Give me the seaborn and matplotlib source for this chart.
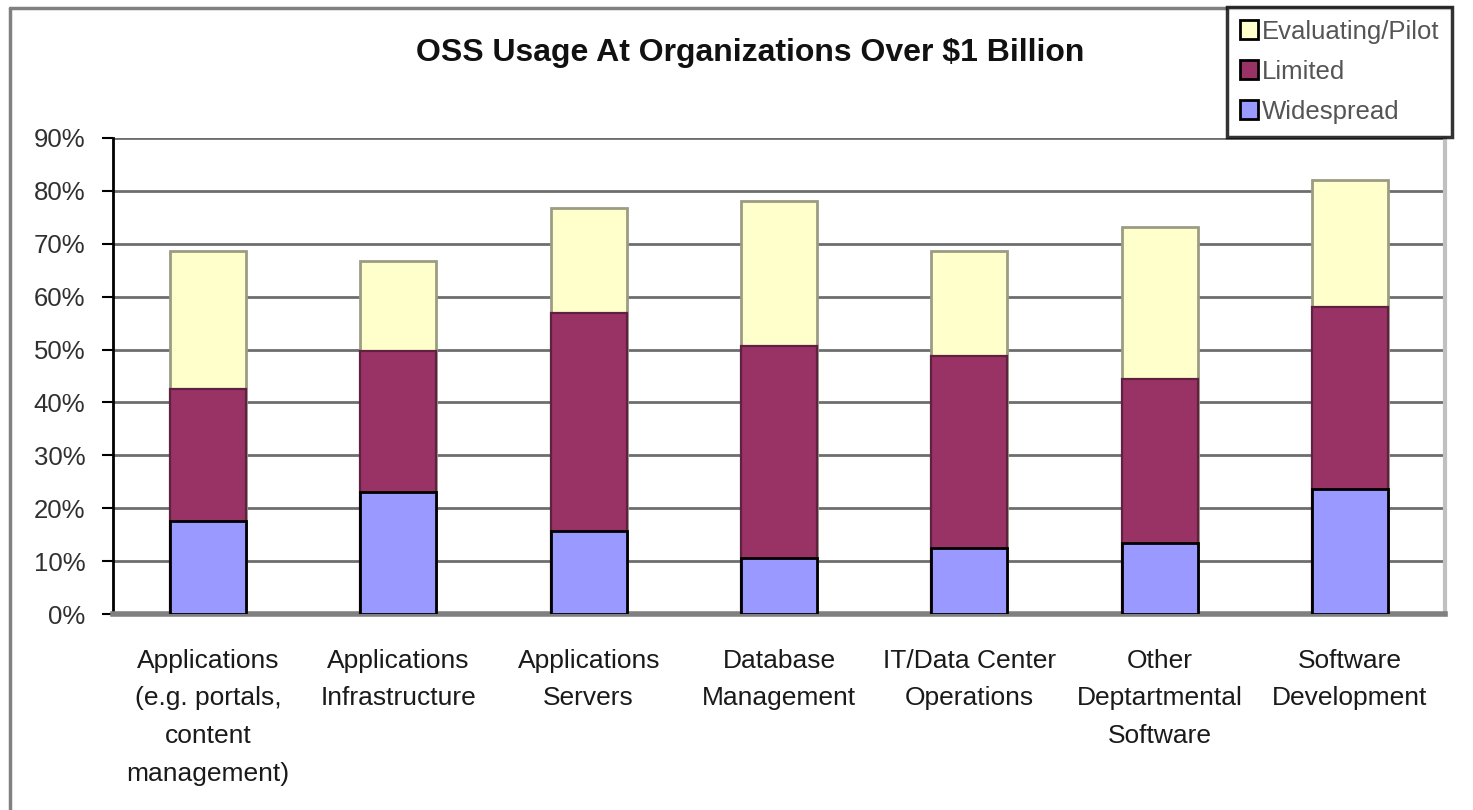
import numpy as np
import pandas as pd
import matplotlib
matplotlib.use("Agg")
import matplotlib.pyplot as plt
import seaborn as sns
from matplotlib.patches import Patch
from matplotlib.lines import Line2D

categories = [
    "Applications\n(e.g. portals,\ncontent\nmanagement)",
    "Applications\nInfrastructure",
    "Applications\nServers",
    "Database\nManagement",
    "IT/Data Center\nOperations",
    "Other\nDeptartmental\nSoftware",
    "Software\nDevelopment",
]
widespread = [17.5, 23.0, 15.6, 10.5, 12.4, 13.4, 23.6]
limited = [25.0, 26.7, 41.4, 40.1, 36.4, 31.0, 34.4]
evaluating = [26.2, 17.1, 19.7, 27.5, 19.9, 28.7, 24.0]
y_ticks = [0, 10, 20, 30, 40, 50, 60, 70, 80, 90]

df = pd.DataFrame({"cat": categories, "Widespread": widespread,
                   "Limited": limited, "Evaluating/Pilot": evaluating})
df["lim_top"] = df["Widespread"] + df["Limited"]
df["total"] = df["lim_top"] + df["Evaluating/Pilot"]

c_eval, c_lim, c_wide = "#ffffcc", "#993366", "#9999ff"

sns.set_style("white")
plt.rcParams["font.family"] = ["Liberation Sans", "DejaVu Sans"]

fig = plt.figure(figsize=(14.73, 8.10), dpi=100)
ax = fig.add_axes([113 / 1473, 1 - 614 / 810, (1445 - 113) / 1473, (614 - 138) / 810])

# stacked bars: draw cumulative heights back to front
sns.barplot(data=df, x="cat", y="total", color=c_eval, saturation=1, width=0.4,
            edgecolor="#9c9c84", linewidth=2, ax=ax, zorder=3)
sns.barplot(data=df, x="cat", y="lim_top", color=c_lim, saturation=1, width=0.4,
            edgecolor="#5e2240", linewidth=1.6, ax=ax, zorder=3)
sns.barplot(data=df, x="cat", y="Widespread", color=c_wide, saturation=1, width=0.4,
            edgecolor="black", linewidth=2, ax=ax, zorder=3)

ax.set_xlim(-0.5, len(categories) - 0.5)
ax.set_ylim(0, 90)
ax.set_yticks(y_ticks)
ax.set_yticklabels([f"{v}%" for v in y_ticks], fontsize=18.5, color="#303030")
ax.yaxis.grid(True, color="#6e6e6e", linewidth=2, zorder=0)
ax.set_axisbelow(True)
ax.set_xlabel("")
ax.set_ylabel("")

ax.set_xticks(range(len(categories)))
ax.set_xticklabels(categories, fontsize=19, color="#1a1a1a", linespacing=1.72)
ax.set_xticks(np.arange(-0.5, len(categories)), minor=True)
ax.tick_params(axis="x", which="major", length=0, pad=25)
ax.tick_params(axis="x", which="minor", length=7, width=1.5, color="#404040", direction="out")
ax.tick_params(axis="y", length=8, width=1.5, color="black", direction="out", pad=12, left=True)

ax.spines["top"].set_visible(False)
ax.spines["left"].set_color("black")
ax.spines["left"].set_linewidth(2)
ax.spines["bottom"].set_color("#808080")
ax.spines["bottom"].set_linewidth(4)
ax.spines["right"].set_color("#c0c0c0")
ax.spines["right"].set_linewidth(3)

fig.text(750 / 1473, 1 - 53 / 810, "OSS Usage At Organizations Over $1 Billion",
         ha="center", va="center", fontsize=23, fontweight="bold", color="#111111")

# outer chart frame (left and top edges)
fig.add_artist(Line2D([10 / 1473, 10 / 1473], [0, 1 - 8 / 810], color="#808080", linewidth=2.5))
fig.add_artist(Line2D([10 / 1473, 1451 / 1473], [1 - 8 / 810, 1 - 8 / 810], color="#808080", linewidth=2.5))

handles = [Patch(facecolor=c_eval, edgecolor="black", linewidth=2, label="Evaluating/Pilot"),
           Patch(facecolor=c_lim, edgecolor="black", linewidth=2, label="Limited"),
           Patch(facecolor=c_wide, edgecolor="black", linewidth=2, label="Widespread")]
leg = fig.legend(handles=handles, loc="upper right", bbox_to_anchor=(1452 / 1473, 1 - 7 / 810),
                 fontsize=18.5, frameon=True, fancybox=False, borderaxespad=0,
                 handlelength=0.7, handleheight=0.75, handletextpad=0.15,
                 labelspacing=0.62, borderpad=0.5)
leg.get_frame().set_edgecolor("black")
leg.get_frame().set_linewidth(2.5)
for t in leg.get_texts():
    t.set_color("#555555")

fig.savefig("out.png", dpi=100)
